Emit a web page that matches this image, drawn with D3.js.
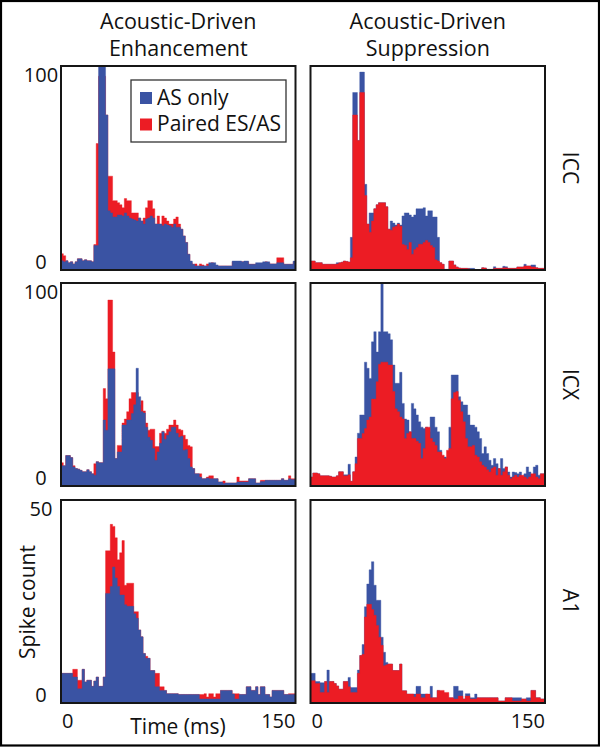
<!DOCTYPE html>
<html>
<head>
<meta charset="utf-8">
<script src="https://cdn.jsdelivr.net/npm/d3@7"></script>
<style>
  html, body { margin: 0; padding: 0; background: #fff; }
  svg { display: block; }
  text { font-family: "Open Sans", "Noto Sans", sans-serif; fill: #111; }
</style>
</head>
<body>
<svg id="chart" width="600" height="750"></svg>
<script>
// ---------------- DATA ----------------
const columnTitles = [["Acoustic-Driven", "Enhancement"], ["Acoustic-Driven", "Suppression"]];
const rowLabels = ["ICC", "ICX", "A1"];
const seriesNames = ["AS only", "Paired ES/AS"];
const xTickLabels = ["0", "150"];
const yMaxByRow = [100, 100, 50];
const yTickLabelsByRow = [["100", "0"], ["100", "0"], ["50", "0"]];
const binMs = 1.5;          // 100 bins over 0-150 ms
const timeMax = 150;

// ICC, enhancement
const iccEnhAS = [4.5,4,4.5,3.5,4,3,4,5.5,5.5,4.5, 5,4.5,4.5,4,12,12,115,120,110,76,
  29,28,26,26,27,27,26.5,28,26.5,25.5, 25,24.5,24,25.5,24,22.5,25,25.5,26.5,25.5,
  22.5,22.5,22.5,21.7,22.5,22,21.7,21,22.5,21, 21,20,16.7,13.5,7.7,4.4,2.8,2,2,2,
  2,2,2,3.6,3.6,3.6,2.5,2,2,2, 2,2,2,4.4,4.4,4.4,4.4,4,4.4,4.4,
  2.8,2.8,2.8,3.6,3.6,3.6,4,4,4,3, 3,3,3.6,3.6,3.6,2.8,2.8,2.8,2.8,4.4];
const iccEnhPaired = [8,7,4.5,3.5,4,3,4,5.5,5.5,4.5, 5,4.5,4.5,4,12.5,62,95,100,95,76,
  46,46,34,34,33,32,30.5,35,34,34, 28,28,28,25.5,24,25.5,30.5,34,34,30,
  22.5,26.5,22.5,26.5,25.5,24,22.5,22.5,25,26, 22.5,20,16.7,13.5,7.7,3.6,2.8,3,2,3,
  2.5,2,3,3,3.6,2.5,2,2,2,2, 2,2,2,4,4,4,4,4,4,4,
  2.8,2.8,2.8,3,3,3,3.5,4,3.5,3, 3,3,6,6,6,2.8,2.8,2.8,2.8,4];

// ICC, suppression
const iccSupAS = [4.4,4.4,3.6,3.6,3.6,2.8,2.8,2.8,2.8,2.8, 2.8,3.6,3.6,3.8,4.4,4.2,3.9,16,87,87,
  63.5,97,97,42,22.5,28,28,30,32,33, 33,33,31,20,24,23,22,23,22,26.5,
  28,28,27,26,27,30,30,30,30.5,26.5, 29,29,26,26,16,3.6,2.8,0.3,0.3,4.4,
  4.4,2.5,1.5,1,0.8,0.8,0.8,0.8,0.8,0.8, 0,0,0,1.1,1,0.3,0.3,0.3,1.6,0.8,
  0.8,0.8,1.8,1.6,0.8,0.8,0.8,0.8,1.5,1.5, 1.5,2.8,2,2,2.5,2.5,1.1,0.8,0.8,0.8];
const iccSupPaired = [4.4,4.4,3.6,3.6,3.6,2.8,2.8,2.8,2.8,2.8, 2.8,3,3.5,3.8,4.4,4.2,3.9,6,76,76,
  63.5,87,87,36.5,22.5,18.5,24,30,32,33, 33,33,31,20,19.5,21,21.5,22.5,21.5,12.5,
  12,10,13.5,7.7,10,11,12.6,12.6,13.5,14.5, 13.5,12,11,5,4.4,3.6,2.8,0.3,0.3,4.4,
  4.4,2.5,1.5,1,0.8,0.8,0.8,0.6,0.2,0.2, 0,0,0,1.1,1,0.3,0.3,0.3,0.8,0.8,
  0.8,0.8,1.1,1.1,0.8,0.8,0.8,0.8,1.5,1.5, 1.5,2,2,2,1.5,1.5,1.1,0.8,0.8,0.8];

// ICX, enhancement
const icxEnhAS = [10,10,15,15,14,9.4,8.6,8.3,7.7,7, 7,8,7,6,5.3,12,11.5,11.5,32.5,27.5,
  57.7,57.7,57.7,13.5,16.8,16.8,30,30,32.5,32.5, 35.7,40,58,44,36.6,36,29,24,22.5,18.5,
  12.7,16.8,21,26.7,23,25,26.7,29,29,26, 24,24.5,17.6,18,13.5,9.4,8.6,6,6,4.4,
  3.6,3.6,4,3.6,3.6,3.6,3.6,2,2,1.2, 1.5,1.5,1.5,1.5,1.5,2,2,2,2,2,
  3.6,3.6,3.6,1.5,1.5,2.2,2.2,2.8,2.8,2.8, 2.8,2.8,2.8,2.8,3.6,2.8,2.8,3.6,3.2,3.2];
const icxEnhPaired = [11.5,10,15,15,14,10,8.6,8.3,7.7,7, 7,8,7,6,11,12,11.5,11.5,48,43,
  91.6,91.6,66,13.5,20,20,31,33,36.6,43, 46,46,46,40,42,37,31,27.5,28,28,
  19.4,19.4,26,27,26,28,30,30,32.5,30, 28,27.5,25,23,20,19.3,8.6,6,6,6,
  3.6,3.6,4.4,5,5,3.6,3.6,2,2,2.5, 1.5,1.5,1.5,1.5,1.5,4.4,2.5,2.5,2.5,2.5,
  3.6,3.6,3.6,1.5,1.5,2.8,2.8,2.8,2.8,2.8, 2.8,2.8,2.8,2.8,3.6,2.8,2.8,5,3.6,3.6];

// ICX, suppression
const icxSupAS = [4.4,6.4,6.4,6,5,5,5,5,4.8,4.4, 4.4,5,7,7,5.5,5.5,10.7,2.3,7,14.3,
  26,35,35,61,58,53,71,76,66,76, 100,76,76,75,72,59.6,50.6,50.6,56,40.7,
  33,32.5,26.7,40.7,38,35,31.6,29,28.3,29, 26.7,34,34,29,26.7,17.6,14.3,14.3,13.5,29,
  54.7,54.7,54.7,44,41.5,39.9,39.9,35,30,30, 29,26.7,23.4,16,19.3,16,12.7,10.2,13.5,11,
  8.6,13.5,8.6,9.4,6.9,4.4,6.9,6.6,6,6.9, 4.4,6,9.4,6.9,5.3,9.4,10.2,5.3,6,6];
const icxSupPaired = [4.4,6.4,6.4,6,5,5,5,5,4.8,4.4, 4.4,5,7,7,5,5,5.5,2.3,7,11,
  23.4,23.4,25.9,28.3,32.5,34,42.8,42.8,51.4,60, 61,61,61,59.6,59.6,46.5,38,36.6,34,33,
  23.4,25.9,26.7,23.4,23.4,22,21,13.5,18.5,29, 29,23.4,21.7,20,16.8,16.8,15.2,13.5,17.6,18.5,
  43,46,46.5,42.3,36.6,31.6,23.4,19.3,19.3,20, 15.2,14.3,11.9,10.2,9.4,8,6.9,8.6,9.4,5.3,
  8.6,5.3,7,9.4,5.3,3.6,4.4,5.3,4.4,5.3, 5.3,4.4,3.6,4.4,6,6,4.4,3.6,6,6];

// A1, enhancement
const a1EnhAS = [7.3,7.3,7.3,7.3,7.3,6.4,6.4,3.5,3.5,8.3, 5.2,5.6,5.6,4.1,5.4,6.4,4.1,4.1,6.4,27,
  27,28.7,33.5,30.8,28.7,26.6,26.6,24.2,23.8,23.8, 23.8,22,20.9,18,16.3,12.2,11,11,8,8,
  4,4,3.1,3.1,3.1,2.3,2.3,2.3,2.3,2.3, 2.1,2.1,2.1,2.1,2.1,2.1,2.1,2.1,2.1,1,
  1,1,1,1,1,1,1,1,3.1,3.1, 3.1,3.1,3.1,2.2,1,1,2.1,2.1,2.1,4,
  4,3.1,3.1,4,2.1,4,4,2.1,2.1,1.5, 3.1,3.1,3.1,3.1,3.1,2.1,2.1,2.1,2.1,2.1];
const a1EnhPaired = [7.3,7.3,7.3,7.3,7.3,8.3,8.3,5.6,5.6,8.3, 5.2,5.6,5.6,4.1,5.4,6.4,4.1,4.1,6.4,37.5,
  37.5,44,43.5,40.7,35.3,37,40,29,29.5,29.5, 29.5,22.5,22.5,18,16.3,12.2,11.5,11,8,8,
  7.3,7.3,4,4,3.1,2.3,2.3,2.3,2.3,2.3, 2.1,2.1,2.1,2.1,2.1,2.1,2.1,2.1,2.1,2.1,
  2.1,2.3,1.5,2.3,2.3,1.5,2.3,2.3,3.1,3.1, 3.1,3.1,3.1,2.3,2.3,2.3,2.1,2.1,2.1,4,
  4,3.1,3.1,4,2.1,4,4,2.1,2.1,1.5, 3.1,3.1,3.1,3.1,3.1,2.1,2.1,2.3,2.3,2.3];

// A1, suppression
const a1SupAS = [7.3,7.3,5.3,5.3,5,5,5.3,8.1,5.3,5.3, 4.8,4.2,3.4,3.4,5.3,5.3,6.3,3.8,3.8,3.8,
  8.1,11.7,14.4,23.7,29.3,32.8,34.8,29,25.3,25.3, 16.2,12.5,10,9.6,9.6,8,8,8,9.6,3,
  3,2.2,2.2,2.2,2.2,4.1,4.1,2.2,2.2,2.2, 1.3,4.1,1.3,1.3,3.1,2.6,2.6,1.3,1.3,1.3,
  1.3,4.1,4.1,3,3,1,2.3,2.3,1.3,1.3, 2.2,1.3,1.3,1.3,1.3,1.3,1.3,1.3,1.3,1.3,
  0.5,0.5,0.5,1.3,1.3,1.3,1.3,1.3,1.3,1.3, 1,1,1.3,1.3,3.1,3.1,1.3,1.3,1,1];
const a1SupPaired = [5.5,5.5,4.8,4.8,2.6,2.6,5.3,2.6,5.3,5.3, 4.8,4.2,3.4,3.4,5.3,5.3,4,2.6,2.6,2.6,
  7.3,11.7,12,21.2,24.3,24.3,23,21.6,19.1,16.2, 14.2,9.2,9.4,9.6,9.6,8,8,8,9.6,3,
  3,2.2,2.2,2.2,1.5,2.2,2.2,1.3,1.3,2.2, 2.2,1.3,1.3,1.3,3.1,3.1,3.1,2.6,2.6,1.3,
  1.3,1,1,1.7,1.7,1,1.7,1.7,1,1, 1,1.3,1.3,1.3,1.3,1.3,1.3,1.3,1.3,1.3,
  0.5,0.5,0.5,1.3,1.3,1.3,0.5,0.5,0.5,0.5, 1,1,0.5,0.5,3.1,3.1,1.3,1.3,1,1];

// ---------------- LAYOUT / STYLE ----------------
const BLUE = "#3a53a3";
const RED = "#ec1c24";
const colX = [[61, 295.5], [310.5, 545]];
const rowY = [[66, 270], [283, 486], [500, 703]];

const panels = [
  {row: 0, col: 0, as: iccEnhAS, paired: iccEnhPaired},
  {row: 0, col: 1, as: iccSupAS, paired: iccSupPaired},
  {row: 1, col: 0, as: icxEnhAS, paired: icxEnhPaired},
  {row: 1, col: 1, as: icxSupAS, paired: icxSupPaired},
  {row: 2, col: 0, as: a1EnhAS, paired: a1EnhPaired},
  {row: 2, col: 1, as: a1SupAS, paired: a1SupPaired}
];

const svg = d3.select("#chart");
svg.append("rect").attr("x", 0).attr("y", 0).attr("width", 600).attr("height", 750).attr("fill", "#fff");

const defs = svg.append("defs");

panels.forEach((p, idx) => {
  const [x0, x1] = colX[p.col];
  const [y0, y1] = rowY[p.row];
  const x = d3.scaleLinear().domain([0, timeMax]).range([x0, x1]);
  const y = d3.scaleLinear().domain([0, yMaxByRow[p.row]]).range([y1, y0]);

  const clipId = "clip" + idx;
  defs.append("clipPath").attr("id", clipId)
    .append("rect").attr("x", x0).attr("y", y0).attr("width", x1 - x0).attr("height", y1 - y0);

  const area = d3.area()
    .x((d, i) => x(i * binMs))
    .y0(y(0))
    .y1(d => y(d))
    .curve(d3.curveStepAfter);

  const ext = arr => arr.concat([arr[arr.length - 1]]);
  const g = svg.append("g").attr("clip-path", `url(#${clipId})`);

  // enhancement: blue (AS) in front; suppression: red (Paired) in front
  const order = p.col === 0
    ? [[p.paired, RED], [p.as, BLUE]]
    : [[p.as, BLUE], [p.paired, RED]];
  order.forEach(([vals, color]) => {
    g.append("path").datum(ext(vals)).attr("d", area).attr("fill", color)
      .attr("stroke", color).attr("stroke-width", 0.4);
  });

  svg.append("rect").attr("x", x0).attr("y", y0).attr("width", x1 - x0).attr("height", y1 - y0)
    .attr("fill", "none").attr("stroke", "#161616").attr("stroke-width", 2);

  // y tick labels (left column only)
  if (p.col === 0) {
    const labels = yTickLabelsByRow[p.row];
    svg.append("text").attr("x", 41).attr("y", y(yMaxByRow[p.row]) + 16)
      .attr("text-anchor", "middle").attr("font-size", 20).text(labels[0]);
    svg.append("text").attr("x", 41).attr("y", y(0) - 1)
      .attr("text-anchor", "middle").attr("font-size", 20).text(labels[1]);
  }
  // x tick labels (bottom row only)
  if (p.row === 2) {
    svg.append("text").attr("x", x(0) + 1).attr("y", 728)
      .attr("text-anchor", "start").attr("font-size", 20).text(xTickLabels[0]);
    svg.append("text").attr("x", x(timeMax)).attr("y", 728)
      .attr("text-anchor", "end").attr("font-size", 20).text(xTickLabels[1]);
  }
});

// Column titles
columnTitles.forEach((lines, c) => {
  const cx = (colX[c][0] + colX[c][1]) / 2;
  svg.append("text").attr("x", cx).attr("y", 29).attr("text-anchor", "middle")
    .attr("font-size", 21.5).text(lines[0]);
  svg.append("text").attr("x", cx).attr("y", 55.5).attr("text-anchor", "middle")
    .attr("font-size", 21.5).text(lines[1]);
});

// Row labels (rotated, right side)
rowLabels.forEach((lab, r) => {
  const cy = (rowY[r][0] + rowY[r][1]) / 2;
  svg.append("text").attr("transform", `translate(563,${cy}) rotate(90)`)
    .attr("text-anchor", "middle").attr("font-size", 21).text(lab);
});

// Axis titles
svg.append("text").attr("transform", "translate(35,602) rotate(-90)")
  .attr("text-anchor", "middle").attr("font-size", 21).text("Spike count");
svg.append("text").attr("x", 178).attr("y", 734).attr("text-anchor", "middle")
  .attr("font-size", 21).text("Time (ms)");

// Legend
const lg = svg.append("g");
lg.append("rect").attr("x", 131).attr("y", 80).attr("width", 155).attr("height", 62)
  .attr("fill", "#fff").attr("stroke", "#333").attr("stroke-width", 1.3);
[[BLUE, seriesNames[0], 92, 104.5], [RED, seriesNames[1], 118.5, 131]].forEach(([col, name, sy, ty]) => {
  lg.append("rect").attr("x", 140).attr("y", sy).attr("width", 12).attr("height", 12).attr("fill", col);
  lg.append("text").attr("x", 157).attr("y", ty).attr("font-size", 21).text(name);
});

// Outer frame
svg.append("rect").attr("x", 1).attr("y", 1).attr("width", 598).attr("height", 744.5)
  .attr("fill", "none").attr("stroke", "#000").attr("stroke-width", 2.2);
</script>
</body>
</html>
